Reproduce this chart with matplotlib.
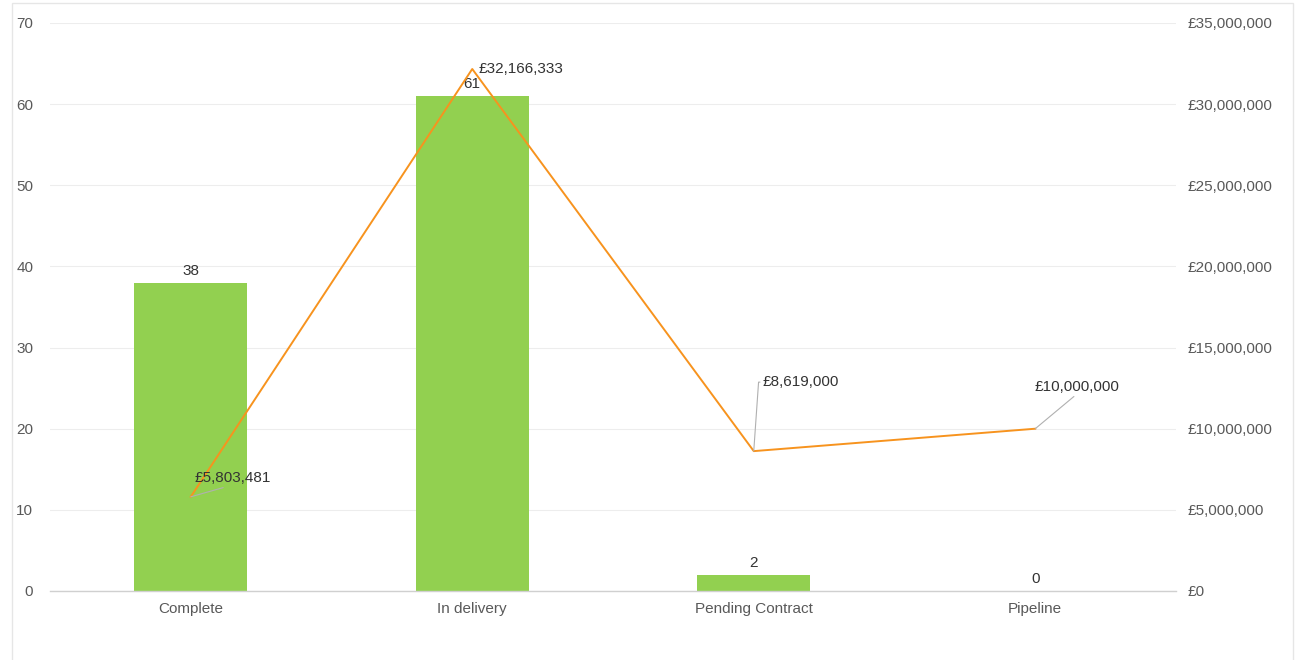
import matplotlib.pyplot as plt
import matplotlib.ticker as mticker
from matplotlib.patches import Rectangle

plt.rcParams['font.family'] = ['Liberation Sans', 'DejaVu Sans']

categories = ['Complete', 'In delivery', 'Pending Contract', 'Pipeline']
counts = [38, 61, 2, 0]
values = [5803481, 32166333, 8619000, 10000000]
value_labels = ['£5,803,481', '£32,166,333', '£8,619,000', '£10,000,000']

green = '#92d050'
orange = '#f7931e'
txt = '#333333'
tick_c = '#595959'

fig = plt.figure(figsize=(13.03, 6.6), dpi=100)
# faint card border
fig.patches.append(Rectangle((12/1303, -0.01), 1281/1303, 1 - 3/660 + 0.01,
                             transform=fig.transFigure, fill=False,
                             edgecolor='#e6e6e6', linewidth=1))

ax = fig.add_axes([50/1303, 1 - 591/660, 1126/1303, 568/660])
ax2 = ax.twinx()

x = list(range(len(categories)))
ax.bar(x, counts, width=0.4, color=green, zorder=2)
ax.set_xlim(-0.5, 3.5)
ax.set_ylim(0, 70)
ax.set_yticks(range(0, 71, 10))
ax.grid(axis='y', color='#ededed', linewidth=0.8, zorder=0)
ax.set_axisbelow(True)
for s in ['top', 'right', 'left']:
    ax.spines[s].set_visible(False)
ax.spines['bottom'].set_color('#d0d0d0')
ax.spines['bottom'].set_linewidth(1)
ax.tick_params(axis='y', length=0, pad=12, labelsize=11, labelcolor=tick_c)
ax.tick_params(axis='x', length=0, pad=8, labelsize=11, labelcolor=tick_c)
ax.set_xticks(x)
ax.set_xticklabels(categories)

for i, c in enumerate(counts):
    ax.annotate(str(c), (i, c), xytext=(0, 5), textcoords='offset pixels',
                ha='center', va='bottom', fontsize=11, color=txt)

ax2.plot(x, values, color=orange, linewidth=1.4, zorder=3)
ax2.set_ylim(0, 35000000)
ax2.set_yticks(range(0, 35000001, 5000000))
ax2.yaxis.set_major_formatter(mticker.FuncFormatter(lambda v, p: '£{:,.0f}'.format(v)))
ax2.tick_params(axis='y', length=0, pad=8.5, labelsize=11, labelcolor=tick_c)
for s in ['top', 'right', 'left', 'bottom']:
    ax2.spines[s].set_visible(False)

lead = dict(arrowstyle='-', color='#b0b0b0', linewidth=0.8, shrinkA=0, shrinkB=0)

# Complete
ax2.annotate(value_labels[0], (0, values[0]), xytext=(4, 19), textcoords='offset pixels',
             ha='left', va='center', fontsize=11, color=txt,
             arrowprops=dict(lead, relpos=(0.5, 0.0)))
# In delivery
ax2.annotate(value_labels[1], (1, values[1]), xytext=(6, 0), textcoords='offset pixels',
             ha='left', va='center', fontsize=11, color=txt)
# Pending Contract
ax2.annotate(value_labels[2], (2, values[2]), xytext=(9, 69), textcoords='offset pixels',
             ha='left', va='center', fontsize=11, color=txt,
             arrowprops=dict(lead, relpos=(0.0, 0.5),
                             connectionstyle='angle,angleA=0,angleB=86,rad=0'))
# Pipeline
ax2.annotate(value_labels[3], (3, values[3]), xytext=(42, 42), textcoords='offset pixels',
             ha='center', va='center', fontsize=11, color=txt,
             arrowprops=dict(lead, relpos=(0.5, 0.0)))

fig.savefig('out.png', dpi=100)
